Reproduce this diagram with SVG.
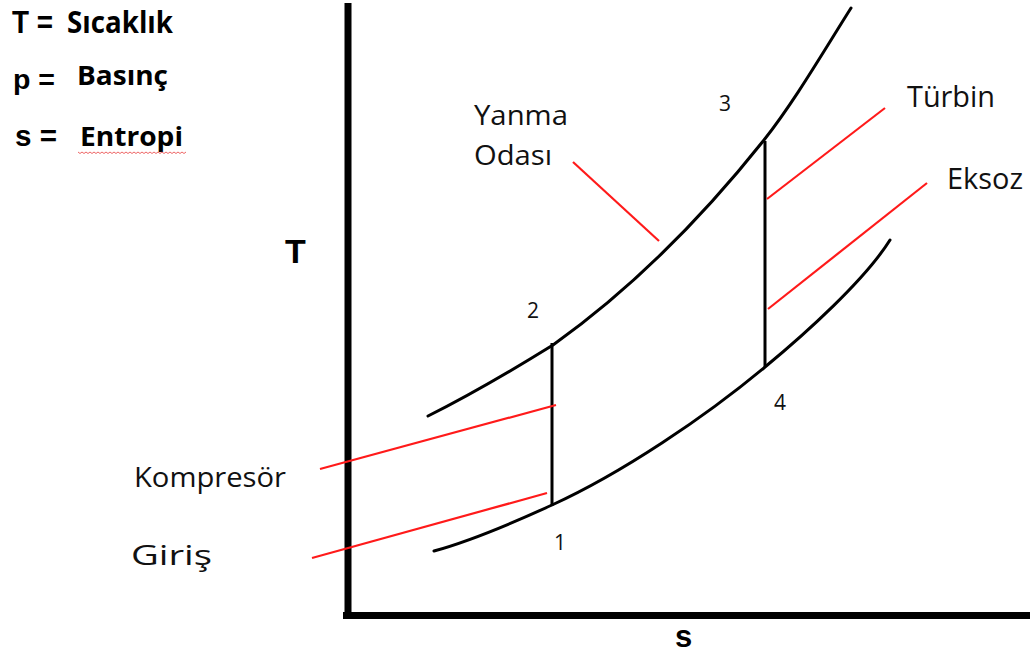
<svg xmlns="http://www.w3.org/2000/svg" width="1030" height="655" viewBox="0 0 1030 655">
<style>
.axis{stroke:#000;stroke-width:7;fill:none}
.curve{stroke:#000;stroke-width:3;fill:none;stroke-linecap:round}
.proc{stroke:#000;stroke-width:3;fill:none}
.lead{stroke:#ff1a1a;stroke-width:2.2;fill:none}
.bold{font-family:"Liberation Sans",Arial,sans-serif;font-weight:bold;fill:#000}
.cal{font-family:"Open Sans",Lato,sans-serif;fill:#111}
.calb{font-family:"Open Sans",Lato,sans-serif;font-weight:bold;fill:#000}
.num{font-family:"Open Sans",Lato,sans-serif;font-size:21px;fill:#111}
</style>
<rect width="1030" height="655" fill="#fff"/>
<g id="legend">
<text class="bold" x="12" y="33" font-size="32" textLength="41" lengthAdjust="spacingAndGlyphs">T =</text>
<text class="calb" x="67" y="33" font-size="31" textLength="106" lengthAdjust="spacingAndGlyphs">Sıcaklık</text>
<text class="bold" x="13" y="89" font-size="27" textLength="42" lengthAdjust="spacingAndGlyphs">p =</text>
<text class="calb" x="77" y="85" font-size="27" textLength="91" lengthAdjust="spacingAndGlyphs">Basınç</text>
<text class="bold" x="15" y="146" font-size="29" textLength="42" lengthAdjust="spacingAndGlyphs">s =</text>
<text class="calb" x="80" y="146" font-size="27" textLength="103" lengthAdjust="spacingAndGlyphs">Entropi</text>
<path d="M78,152 l2,1.5 l2,-1.5 l2,1.5 l2,-1.5 l2,1.5 l2,-1.5 l2,1.5 l2,-1.5 l2,1.5 l2,-1.5 l2,1.5 l2,-1.5 l2,1.5 l2,-1.5 l2,1.5 l2,-1.5 l2,1.5 l2,-1.5 l2,1.5 l2,-1.5 l2,1.5 l2,-1.5 l2,1.5 l2,-1.5 l2,1.5 l2,-1.5 l2,1.5 l2,-1.5 l2,1.5 l2,-1.5 l2,1.5 l2,-1.5 l2,1.5 l2,-1.5 l2,1.5 l2,-1.5 l2,1.5 l2,-1.5 l2,1.5 l2,-1.5 l2,1.5 l2,-1.5 l2,1.5 l2,-1.5 l2,1.5 l2,-1.5 l2,1.5 l2,-1.5 l2,1.5 l2,-1.5 l2,1.5 l2,-1.5 l2,1.5 l2,-1.5" stroke="#e66" stroke-width="1" fill="none"/>
</g>
<g id="axes">
<line class="axis" x1="348" y1="3" x2="348" y2="619"/>
<line class="axis" x1="343" y1="615.5" x2="1030" y2="615.5"/>
<text class="bold" x="285" y="263" font-size="34">T</text>
<text class="bold" x="675" y="647" font-size="31">s</text>
</g>
<g id="curves">
<path id="curve-high-p" class="curve" d="M428,416 C470,395 511,371 553,345 C623,295 694,228 764,140 C794,102 822,54 851,8"/>
<path id="curve-low-p" class="curve" d="M434,551 C474,540 515,522 552,505 C622,473 705,417 765,367 C805,334 865,280 890,240"/>
</g>
<g id="process">
<line class="proc" x1="552" y1="343" x2="552" y2="506"/>
<line class="proc" x1="765" y1="141" x2="765" y2="366"/>
</g>
<g id="connectors">
<line class="lead" x1="320" y1="469" x2="556" y2="405"/>
<line class="lead" x1="312" y1="558" x2="547" y2="493"/>
<line class="lead" x1="573" y1="162" x2="659" y2="241"/>
<line class="lead" x1="767" y1="199" x2="885" y2="108"/>
<line class="lead" x1="768" y1="309" x2="927" y2="183"/>
</g>
<g id="label-yanma"><text class="cal" x="474" y="125" font-size="28" textLength="94" lengthAdjust="spacingAndGlyphs">Yanma</text>
<text class="cal" x="474" y="165" font-size="28" textLength="78" lengthAdjust="spacingAndGlyphs">Odası</text></g>
<g id="label-kompresor"><text class="cal" x="134" y="487" font-size="27" textLength="152" lengthAdjust="spacingAndGlyphs">Kompresör</text></g>
<g id="label-giris"><text class="cal" x="131" y="565" font-size="27" textLength="81" lengthAdjust="spacingAndGlyphs">Giriş</text></g>
<g id="label-turbin"><text class="cal" x="907" y="107" font-size="30" textLength="88" lengthAdjust="spacingAndGlyphs">Türbin</text></g>
<g id="label-eksoz"><text class="cal" x="947" y="189" font-size="29" textLength="76" lengthAdjust="spacingAndGlyphs">Eksoz</text></g>
<g id="point-1"><text class="num" x="554" y="550">1</text></g>
<g id="point-2"><text class="num" x="527" y="318">2</text></g>
<g id="point-3"><text class="num" x="719" y="111">3</text></g>
<g id="point-4"><text class="num" x="774" y="410">4</text></g>
</svg>
